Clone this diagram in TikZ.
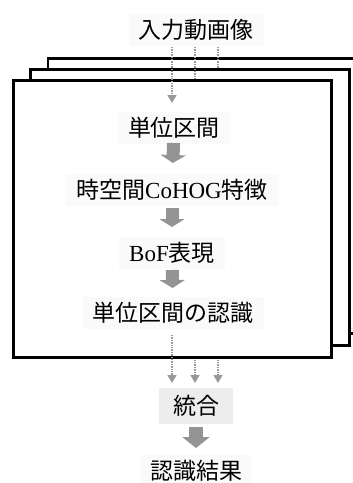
\documentclass[tikz,border=0pt]{standalone}
\usepackage{fontspec}
\setmainfont{Liberation Serif}
\newfontfamily\cjk{Noto Sans CJK JP}
\usetikzlibrary{arrows.meta}
\begin{document}
\begin{tikzpicture}[x=1pt,y=-1pt,
  frame/.style={draw=black, line width=2.4pt, fill=white},
  lbl/.style={font=\fontsize{23}{27}\selectfont, inner xsep=10pt, inner ysep=5pt, fill=gray!4},
  dotline/.style={draw=black!40, line width=1.6pt, dash pattern=on 1.4pt off 1pt},
  dotarrow/.style={dotline, -{Triangle[width=9pt,length=8pt]}},
  blockarrow/.style={draw=black!42, line width=13pt, -{Triangle[width=25pt,length=8pt]}},
  bigblockarrow/.style={draw=black!42, line width=14pt, -{Triangle[width=27pt,length=11pt]}}]
\useasboundingbox (0,0) rectangle (353,483);
\clip (0,0) rectangle (353,483);
% input
\node[lbl] (input) at (196,30) {\cjk 入力動画像};
\coordinate (a1s) at (172,47);
\coordinate (a1e) at (172,103);
\coordinate (a2s) at (195,47);
\coordinate (a2e) at (195,86);
\coordinate (a3s) at (218,47);
\coordinate (a3e) at (218,75);
% back frame
\draw[frame] (48,58.5) rectangle (368,333.5);
\draw[dotline] (a3s) -- (a3e);
% middle frame
\draw[frame] (30.5,69.5) rectangle (349.5,345.5);
\draw[dotline] (a2s) -- (a2e);
\coordinate (b2s) at (195,350);
\coordinate (b2e) at (195,383);
\coordinate (b3s) at (218,350);
\coordinate (b3e) at (218,383);
\draw[dotarrow] (b2s) -- (b2e);
\draw[dotarrow] (b3s) -- (b3e);
% front frame
\draw[frame] (13.5,80.5) rectangle (331.5,357.5);
\draw[dotarrow] (a1s) -- (a1e);
% labels inside
\node[lbl] (unit) at (174,128) {\cjk 単位区間};
\node[lbl] (feat) at (172,190) {{\cjk 時空間}CoHOG{\cjk 特徴}};
\node[lbl] (bof) at (172,253) {BoF{\cjk 表現}};
\node[lbl] (rec) at (173,313) {\cjk 単位区間の認識};
\draw[blockarrow, shorten <=15pt, shorten >=27pt] (unit.center) -- (feat.center);
\draw[blockarrow, shorten <=18pt, shorten >=26pt] (feat.center) -- (bof.center);
\draw[blockarrow, shorten <=17pt, shorten >=25pt] (bof.center) -- (rec.center);
\coordinate (b1s) at (172,335);
\coordinate (b1e) at (172,383);
\draw[dotarrow] (b1s) -- (b1e);
% outside bottom
\node[lbl, fill=gray!14, inner xsep=14pt, inner ysep=7pt] (merge) at (196,406) {\cjk 統合};
\node[lbl] (result) at (196,471) {\cjk 認識結果};
\draw[bigblockarrow, shorten <=21pt, shorten >=23pt] (merge.center) -- (result.center);
\end{tikzpicture}
\end{document}
